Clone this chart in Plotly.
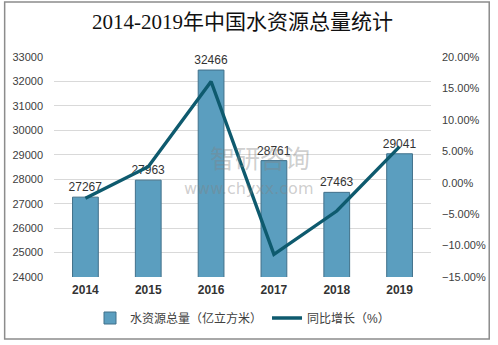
import plotly.graph_objects as go

years = ["2014", "2015", "2016", "2017", "2018", "2019"]
water = [27267, 27963, 32466, 28761, 27463, 29041]
growth = [-2.47, 2.55, 16.10, -11.41, -4.51, 5.75]

title = "2014-2019年中国水资源总量统计"
bar_name = "水资源总量（亿立方米）"
line_name = "同比增长（%）"

W, H = 498, 345
L, R, T, B = 53, 63, 57, 68
pw, ph = W - L - R, H - T - B

def px(x):
    return (x - L) / pw

def py(y):
    return (H - B - y) / ph

fig = go.Figure()
fig.add_trace(go.Bar(
    x=years, y=water, name=bar_name,
    marker=dict(color="#5b9ebf", line=dict(color="#41708a", width=1)),
    width=0.41,
    text=[str(v) for v in water], textposition="outside",
    constraintext="none",
    textfont=dict(size=12, color="#333333", family="Liberation Sans, Arial"),
    cliponaxis=False,
))
fig.add_trace(go.Scatter(
    x=years, y=growth, name=line_name, yaxis="y2", mode="lines",
    line=dict(color="#0e5a6e", width=3.4),
))

fig.update_layout(
    width=W, height=H,
    margin=dict(l=L, r=R, t=T, b=B),
    paper_bgcolor="white", plot_bgcolor="white",
    title=dict(text=title, x=0.5, xref="paper", xanchor="center",
               y=1 - 22 / H, yanchor="middle",
               font=dict(size=21, color="#111111",
                         family="Liberation Serif, Noto Sans CJK SC")),
    font=dict(family="Liberation Sans, Noto Sans CJK SC", color="#404040"),
    xaxis=dict(showgrid=False, showline=False, ticks="",
               tickfont=dict(size=12, color="#333333",
                             family="Liberation Sans, Arial", weight="bold"),
               ticklabelstandoff=4),
    yaxis=dict(range=[24000, 33000], dtick=1000, tickformat="d", showgrid=True,
               gridcolor="#d9d9d9", gridwidth=1, zeroline=False,
               tickfont=dict(size=11, color="#404040"), ticklabelstandoff=10),
    yaxis2=dict(range=[-15, 20], dtick=5, overlaying="y", side="right",
                showgrid=False, zeroline=False, tickformat=".2f",
                ticksuffix="%", tickfont=dict(size=11, color="#404040"),
                ticklabelstandoff=10),
    legend=dict(orientation="h", x=0.5, xanchor="center", y=py(318),
                yanchor="middle", font=dict(size=12, color="#404040"),
                itemwidth=30),
    bargap=0.59,
    showlegend=True,
)

# outer border
fig.add_shape(type="rect", xref="paper", yref="paper",
              x0=px(3), x1=px(494), y0=py(339), y1=py(2),
              line=dict(color="#8c8c8c", width=1.5), layer="above")

# watermark
fig.add_annotation(text="智研咨询", xref="paper", yref="paper",
                   x=px(262), y=py(157), showarrow=False,
                   font=dict(size=25, color="rgba(130,130,130,0.40)",
                             family="Noto Sans CJK SC"))
fig.add_annotation(text="www.chyxx.com", xref="paper", yref="paper",
                   x=px(250), y=py(188), showarrow=False,
                   font=dict(size=16, color="rgba(130,130,130,0.40)",
                             family="DejaVu Sans"))

fig.write_html("out.html")
